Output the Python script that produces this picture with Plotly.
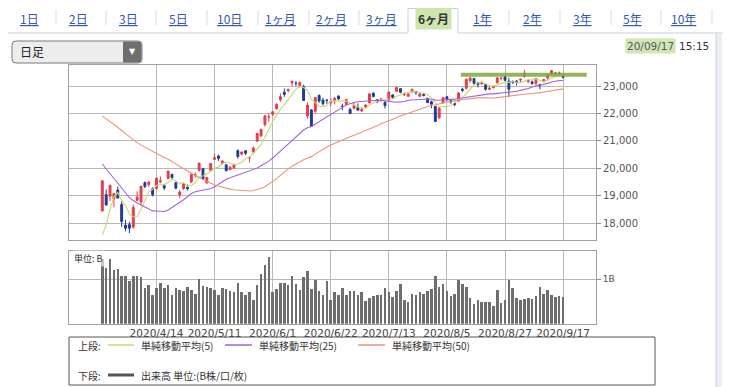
import plotly.graph_objects as go
import pandas as pd

# page window is 731x387; the html body adds an 8px margin, so the figure is
# sized and positioned to compensate
PAGE_W, PAGE_H, BODY = 731, 387, 8
W, H = PAGE_W - BODY, PAGE_H - BODY

# ---------------- data ----------------
# closes before the visible window (used only for the moving averages)
pre_close = [23850, 24025, 23916, 23933, 24041, 24083, 23864, 24031, 23795, 23827,
             23343, 23215, 23379, 22977, 23205, 22971, 23084, 23319, 23873, 23827,
             23685, 23861, 23827, 23687, 23523, 23193, 23400, 23479, 23386, 22605,
             22426, 21948, 21142, 21344, 21082, 21100, 21329, 20749, 19698, 19867,
             19416, 18559, 17431, 17002, 17011, 16726, 16552, 16887, 18092]

open_ = [18446, 19044, 18987, 18884, 19209, 18686, 17934, 17951, 17857, 18838,
         18773, 19481, 19411, 19259, 19264, 19502, 19376, 19633, 19780, 19480,
         19030, 19265, 19312, 19500, 19749, 19929, 19991, 19468, 19929, 20329,
         20450, 20191, 20129, 19951, 20019, 20643, 20519, 20643, 20379, 20598,
         20988, 21182, 21591, 21873, 21968, 22171, 22501, 22771, 22833, 23113,
         23100, 23014, 22972, 21909, 22130, 22077, 22655, 22488, 22485, 22385,
         22472, 22636, 22262, 22325, 22148, 22188, 22227, 22091, 22235, 22384,
         22738, 22497, 22529, 22402, 22489, 22674, 22808, 22904, 22684, 22627,
         22779, 22797, 22624, 22688, 22545, 22428, 22260, 21845, 22387, 22612,
         22469, 22361, 22452, 22884, 22915, 23187, 23272, 23115, 23072, 23050,
         22878, 22938, 23113, 23289, 23345, 23170, 23174, 23180, 23215, 23341,
         23159, 23149, 23090, 23051, 23157, 23291, 23431, 23474, 23453, 23355]
high = [19564, 19230, 19389, 19084, 19336, 18784, 18132, 18059, 18672, 19162,
        19353, 19522, 19544, 19309, 19676, 19703, 19441, 19922, 19807, 19514,
        19215, 19467, 19412, 19797, 19865, 20193, 19991, 19674, 20179, 20534,
        20503, 20301, 20140, 20087, 20169, 20695, 20621, 20655, 20414, 20799,
        21295, 21456, 21931, 21992, 22101, 22374, 22728, 22907, 22912, 23178,
        23185, 23160, 23047, 22406, 22151, 22582, 22697, 22563, 22525, 22561,
        22603, 22657, 22359, 22514, 22210, 22404, 22370, 22236, 22336, 22724,
        22772, 22516, 22563, 22450, 22784, 22698, 22961, 22904, 22779, 22717,
        22888, 22806, 22761, 22735, 22581, 22469, 22262, 22236, 22600, 22612,
        22510, 22433, 22750, 22942, 23249, 23338, 23272, 23138, 23160, 23054,
        22975, 23021, 23335, 23315, 23373, 23302, 23192, 23211, 23266, 23580,
        23240, 23204, 23294, 23059, 23260, 23446, 23582, 23500, 23528, 23376]
low = [18446, 18664, 18813, 18578, 18917, 17871, 17707, 17646, 17802, 18820,
       18661, 19279, 19321, 18982, 19236, 19459, 19206, 19624, 19617, 19240,
       18919, 19215, 19190, 19474, 19659, 19872, 19598, 19448, 19874, 20309,
       20271, 20138, 19901, 19950, 19987, 20355, 20469, 20480, 20213, 20585,
       20971, 21155, 21521, 21701, 21906, 22150, 22426, 22604, 22757, 22997,
       22991, 22944, 22472, 21814, 21530, 22003, 22389, 22295, 22348, 22265,
       22331, 22490, 22115, 22301, 21995, 22139, 22098, 22050, 22227, 22371,
       22595, 22376, 22426, 22179, 22474, 22541, 22777, 22735, 22635, 22608,
       22767, 22684, 22616, 22619, 22372, 22187, 21710, 21792, 22372, 22451,
       22358, 22253, 22436, 22771, 22874, 23127, 23050, 22950, 23050, 22830,
       22849, 22913, 23105, 23200, 23183, 22602, 23077, 23020, 23135, 23314,
       23114, 23046, 23024, 22878, 23151, 23235, 23417, 23431, 23387, 23273]
close = [19546, 18664, 19389, 19084, 18917, 18065, 17818, 17820, 18576, 18950,
         19353, 19345, 19498, 19043, 19638, 19550, 19290, 19897, 19669, 19280,
         19137, 19429, 19262, 19783, 19771, 20193, 19619, 19674, 20179, 20390,
         20366, 20267, 19914, 20037, 20133, 20433, 20595, 20552, 20388, 20741,
         21271, 21419, 21916, 21877, 22062, 22325, 22613, 22695, 22863, 23178,
         23091, 23124, 22472, 22305, 21530, 22582, 22455, 22355, 22478, 22437,
         22549, 22534, 22259, 22512, 21995, 22288, 22121, 22145, 22306, 22714,
         22614, 22438, 22529, 22290, 22784, 22587, 22945, 22770, 22696, 22717,
         22884, 22751, 22715, 22657, 22397, 22339, 21710, 22195, 22573, 22514,
         22418, 22329, 22750, 22843, 23249, 23289, 23096, 23051, 23110, 22880,
         22920, 22985, 23296, 23290, 23208, 22882, 23139, 23138, 23247, 23465,
         23205, 23089, 23274, 23032, 23235, 23406, 23559, 23454, 23475, 23319]
# volume in billions of shares
volume_b = [1.47, 1.27, 1.47, 1.21, 1.23, 1.07, 1.07, 0.96, 1.07, 1.08,
            1.06, 0.81, 0.87, 0.65, 0.81, 0.93, 0.81, 0.87, 0.65, 0.80,
            0.76, 0.74, 0.83, 0.77, 0.68, 1.02, 0.85, 0.83, 0.81, 0.76,
            0.66, 0.80, 0.78, 0.75, 0.71, 0.92, 0.71, 0.65, 0.71, 0.55,
            0.87, 1.12, 1.34, 1.52, 0.71, 0.78, 0.93, 0.92, 0.87, 1.08,
            0.91, 0.76, 1.06, 1.20, 0.78, 0.99, 0.74, 0.65, 0.96, 0.55,
            0.71, 0.66, 0.81, 0.66, 0.74, 0.74, 0.66, 0.72, 0.51, 0.59,
            0.62, 0.65, 0.65, 0.80, 0.71, 0.61, 0.74, 0.89, 0.55, 0.50,
            0.68, 0.65, 0.71, 0.67, 0.74, 0.78, 1.07, 0.83, 0.89, 0.74,
            0.63, 0.67, 0.99, 0.91, 0.83, 0.59, 0.44, 0.55, 0.50, 0.50,
            0.50, 0.40, 0.76, 0.48, 0.53, 0.99, 0.81, 0.59, 0.53, 0.57,
            0.59, 0.57, 0.63, 0.83, 0.67, 0.77, 0.65, 0.61, 0.62, 0.61]
tick_index = [14, 29, 44, 59, 74, 89, 104, 119]
tick_labels = ["2020/4/14", "2020/5/11", "2020/6/1", "2020/6/22",
               "2020/7/13", "2020/8/5", "2020/8/27", "2020/9/17"]
price_ticks = [18000, 19000, 20000, 21000, 22000, 23000]
ma_periods = [5, 25, 50]
ma_names = ["単純移動平均(5)", "単純移動平均(25)", "単純移動平均(50)"]
tabs = ["1日", "2日", "3日", "5日", "10日", "1ヶ月", "2ヶ月", "3ヶ月",
        "6ヶ月", "1年", "2年", "3年", "5年", "10年"]
active_tab = "6ヶ月"
stamp_date, stamp_time = "20/09/17", "15:15"

# ---------------- style ----------------
RED, BLUE = "#e63c4c", "#1d3b95"
MA_COLORS = ["#c6da6c", "#a660dc", "#e8957a"]
VOL_COLOR = "#6e6e6e"
GRID, FRAME = "#b8b8b8", "#a0a0a0"
JP = "Noto Sans CJK JP"
NUM = "DejaVu Sans"


def px(x):
    return (x - BODY) / W


def py(y):
    return 1 - (y - BODY) / H


def note(text, x, y, xanchor="center", **kw):
    d = dict(text=text, x=px(x), y=py(y), xref="paper", yref="paper",
             xanchor=xanchor, yanchor="middle", showarrow=False)
    d.update(kw)
    return d


n = len(close)
idx = list(range(n))
all_close = pd.Series(pre_close + close, dtype=float)

fig = go.Figure()
fig.add_trace(go.Candlestick(
    x=idx, open=open_, high=high, low=low, close=close,
    increasing=dict(line=dict(color=RED, width=1), fillcolor=RED),
    decreasing=dict(line=dict(color=BLUE, width=1), fillcolor=BLUE),
    whiskerwidth=0, hoverinfo="skip", xaxis="x", yaxis="y"))

for p, c in zip(ma_periods, MA_COLORS):
    sma = all_close.rolling(p).mean().iloc[len(pre_close):].tolist()
    fig.add_trace(go.Scatter(x=idx, y=sma, mode="lines",
                             line=dict(color=c, width=1.1),
                             hoverinfo="skip", xaxis="x", yaxis="y"))

fig.add_trace(go.Bar(x=idx, y=volume_b, width=0.66,
                     marker=dict(color=VOL_COLOR, line=dict(width=0)),
                     hoverinfo="skip", xaxis="x2", yaxis="y2"))

xr = [-8.6, 127.5]
xdom = [px(69), px(596)]
common_x = dict(domain=xdom, range=xr, tickvals=tick_index, showgrid=True,
                gridcolor=GRID, gridwidth=1, zeroline=False, showline=True,
                mirror=True, linecolor=FRAME, linewidth=1, fixedrange=True)
fig.update_layout(
    width=W, height=H, margin=dict(l=0, r=0, t=0, b=0, pad=0),
    paper_bgcolor="white", plot_bgcolor="white", showlegend=False,
    boxgap=0.3, bargap=0,
    xaxis=dict(**common_x, anchor="y", showticklabels=False, ticks="",
               rangeslider=dict(visible=False)),
    yaxis=dict(domain=[py(240), py(65)], range=[17392, 23765], side="right",
               tickvals=price_ticks, tickformat=",d", ticks="outside",
               ticklen=4, tickcolor="#888", showgrid=True, gridcolor=GRID,
               zeroline=False, showline=True, mirror=True, linecolor=FRAME,
               anchor="x", tickfont=dict(family=NUM, size=10, color="#555")),
    xaxis2=dict(**common_x, anchor="y2", ticktext=tick_labels, ticks="",
                tickfont=dict(family=NUM, size=10.5, color="#444")),
    yaxis2=dict(domain=[py(323.7), py(250.7)], range=[0, 1.644], side="right",
                tickvals=[1], ticktext=["1B"], ticks="outside", ticklen=4,
                tickcolor="#888", showgrid=True, gridcolor=GRID,
                zeroline=False, showline=True, mirror=True, linecolor=FRAME,
                anchor="x2", tickfont=dict(family=NUM, size=9, color="#555")),
)

shapes = []
ann = []

# ---- tab row ----
tab_x = [29, 78, 128, 178, 229, 280, 331, 381, 433, 482, 532, 582, 632, 683]
sep_x = [56, 106, 156, 207, 258, 309, 359, 509, 560, 611, 661, 712]
shapes.append(dict(type="line", xref="paper", yref="paper", x0=0, x1=px(408),
                   y0=py(33), y1=py(33), line=dict(color="#c9d0dd", width=1)))
shapes.append(dict(type="line", xref="paper", yref="paper", x0=px(458), x1=1,
                   y0=py(33), y1=py(33), line=dict(color="#c9d0dd", width=1)))
shapes.append(dict(type="path", xref="paper", yref="paper",
                   path=f"M {px(408)},{py(33)} L {px(408)},{py(8.5)} L {px(458)},{py(8.5)} L {px(458)},{py(33)}",
                   line=dict(color="#c9d0dd", width=1)))
for sx in sep_x:
    shapes.append(dict(type="line", xref="paper", yref="paper", x0=px(sx), x1=px(sx),
                       y0=py(10), y1=py(25), line=dict(color="#d6d9e0", width=1)))
for t, tx in zip(tabs, tab_x):
    if t == active_tab:
        ann.append(note(f"<b>{t}</b>", tx, 18, font=dict(family=JP, size=12, color="#333"),
                        bgcolor="#cde6ae", borderpad=2))
    else:
        ann.append(note(f"<u>{t}</u>", tx, 18, font=dict(family=JP, size=12, color="#3559b0")))

# right page strip
shapes.append(dict(type="rect", xref="paper", yref="paper", x0=px(716), x1=px(722),
                   y0=0, y1=py(33), line=dict(width=0), fillcolor="#eceef6"))
shapes.append(dict(type="line", xref="paper", yref="paper", x0=px(716), x1=px(716),
                   y0=0, y1=py(33), line=dict(color="#c9d0dd", width=1)))

# ---- dropdown ----
def rr(x0, y0, x1, y1, r):
    return (f"M {px(x0 + r)},{py(y0)} L {px(x1 - r)},{py(y0)} "
            f"Q {px(x1)},{py(y0)} {px(x1)},{py(y0 + r)} L {px(x1)},{py(y1 - r)} "
            f"Q {px(x1)},{py(y1)} {px(x1 - r)},{py(y1)} L {px(x0 + r)},{py(y1)} "
            f"Q {px(x0)},{py(y1)} {px(x0)},{py(y1 - r)} L {px(x0)},{py(y0 + r)} "
            f"Q {px(x0)},{py(y0)} {px(x0 + r)},{py(y0)} Z")
shapes.append(dict(type="path", xref="paper", yref="paper", path=rr(12, 41, 142, 63, 4),
                   fillcolor="#ededed", line=dict(color="#7a7a7a", width=1)))
shapes.append(dict(type="path", xref="paper", yref="paper",
                   path=(f"M {px(123)},{py(41.5)} L {px(138)},{py(41.5)} Q {px(141.5)},{py(41.5)} {px(141.5)},{py(45)} "
                         f"L {px(141.5)},{py(59)} Q {px(141.5)},{py(62.5)} {px(138)},{py(62.5)} L {px(123)},{py(62.5)} Z"),
                   fillcolor="#6e6e6e", line=dict(width=0)))
ann.append(note("日足", 18, 52, xanchor="left", font=dict(family=JP, size=12, color="#222")))
ann.append(note("▼", 132, 52, font=dict(family=NUM, size=8, color="white")))

# ---- date stamp ----
ann.append(note(stamp_date, 676, 46, xanchor="right", bgcolor="#cfe8b2", borderpad=1,
                font=dict(family=NUM, size=10.5, color="#556")))
ann.append(note(stamp_time, 677, 46, xanchor="left",
                font=dict(family=NUM, size=10.5, color="#333")))

# ---- highlight marker over the latest range ----
shapes.append(dict(type="line", xref="x", yref="y", x0=92.6, x1=125.1, y0=23412, y1=23412,
                   line=dict(color="rgba(128,168,58,0.85)", width=4)))

# ---- volume unit ----
ann.append(note("単位: B", 72, 258, xanchor="left", bgcolor="rgba(255,255,255,0.6)",
                font=dict(family=JP, size=9, color="#333")))

# ---- legend box ----
shapes.append(dict(type="rect", xref="paper", yref="paper", x0=px(69), x1=px(655),
                   y0=py(385), y1=py(337), line=dict(color="#555", width=1)))
lf = dict(family=JP, size=10, color="#333")
ann.append(note("上段:", 76, 345, xanchor="left", font=lf))
leg_x = [(108, 134, 139), (225, 252, 257), (358, 385, 390)]
for (a, b, tx), c, name in zip(leg_x, MA_COLORS, ma_names):
    shapes.append(dict(type="line", xref="paper", yref="paper", x0=px(a), x1=px(b),
                       y0=py(345), y1=py(345), line=dict(color=c, width=1.5)))
    ann.append(note(name, tx, 345, xanchor="left", font=lf))
ann.append(note("下段:", 76, 375, xanchor="left", font=lf))
shapes.append(dict(type="line", xref="paper", yref="paper", x0=px(108), x1=px(134),
                   y0=py(375), y1=py(375), line=dict(color="#555", width=3)))
ann.append(note("出来高 単位:(B株/口/枚)", 139, 375, xanchor="left", font=lf))

fig.update_layout(shapes=shapes, annotations=ann)
fig.write_html("out.html")
